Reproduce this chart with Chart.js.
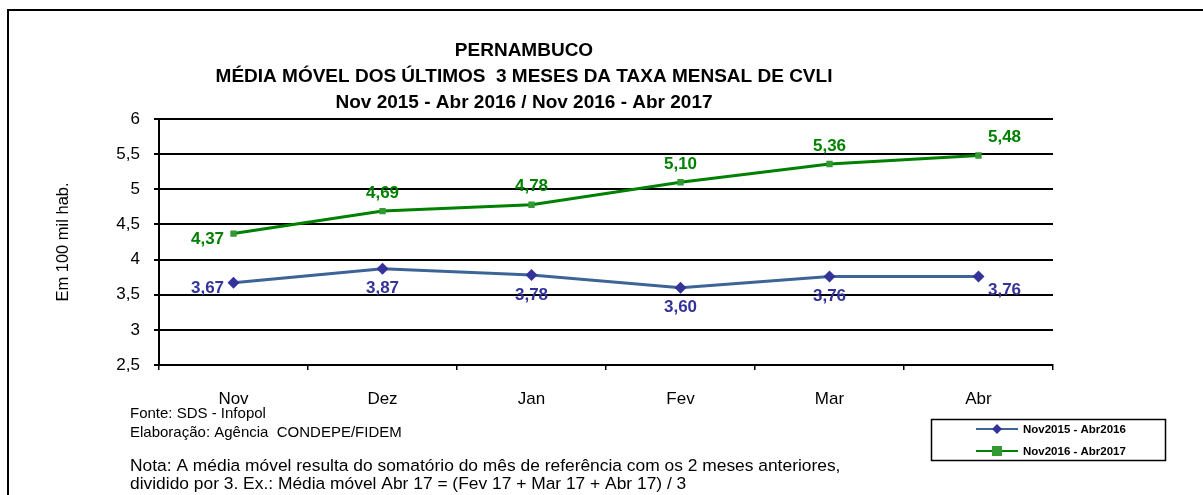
<!DOCTYPE html>
<html>
<head>
<meta charset="utf-8">
<script src="https://cdn.jsdelivr.net/npm/chart.js@4/dist/chart.umd.min.js"></script>
<style>
  html, body { margin: 0; padding: 0; background: #fff; }
  #wrap { width: 1203px; height: 495px; position: relative; }
</style>
</head>
<body>
<div id="wrap"><canvas id="cvli"></canvas></div>
<script>
// ── DATA ──
const MONTHS = ['Nov', 'Dez', 'Jan', 'Fev', 'Mar', 'Abr'];
const SERIES_2016 = [3.67, 3.87, 3.78, 3.60, 3.76, 3.76];
const SERIES_2017 = [4.37, 4.69, 4.78, 5.10, 5.36, 5.48];
const SERIES_NAMES = ['Nov2015 - Abr2016', 'Nov2016 - Abr2017'];
const TITLE_LINES = [
  'PERNAMBUCO',
  'MÉDIA MÓVEL DOS ÚLTIMOS  3 MESES DA TAXA MENSAL DE CVLI',
  'Nov 2015 - Abr 2016 / Nov 2016 - Abr 2017'
];
const FOOT_SMALL = ['Fonte: SDS - Infopol', 'Elaboração: Agência  CONDEPE/FIDEM'];
const FOOT_NOTE = [
  'Nota: A média móvel resulta do somatório do mês de referência com os 2 meses anteriores,',
  'dividido por 3. Ex.: Média móvel Abr 17 = (Fev 17 + Mar 17 + Abr 17) / 3'
];

const FONT = "'Liberation Sans', Arial, sans-serif";
const BLUE_LINE = '#3C6496';
const BLUE_MARK = '#333399';
const GREEN_LINE = '#008000';
const GREEN_MARK = '#339933';

const fmt = v => v.toFixed(2).replace('.', ',');

// ── FRAME + TEXTS ──
const decor = {
  id: 'decor',
  beforeDraw(chart) {
    const c = chart.ctx;
    c.save();
    c.fillStyle = '#fff';
    c.fillRect(0, 0, chart.width, chart.height);
    c.strokeStyle = '#000';
    c.lineWidth = 2;
    c.strokeRect(8, 10, 1300, 600);
    c.restore();
  },
  afterDraw(chart) {
    const c = chart.ctx;
    c.save();
    c.fillStyle = '#000';
    c.textAlign = 'center';
    c.textBaseline = 'middle';
    c.font = 'bold 19px ' + FONT;
    TITLE_LINES.forEach((t, i) => c.fillText(t, 524, 51 + i * 26));

    // footer
    c.textAlign = 'left';
    c.font = '15px ' + FONT;
    FOOT_SMALL.forEach((t, i) => c.fillText(t, 130, 414 + i * 19));
    c.font = '17.4px ' + FONT;
    FOOT_NOTE.forEach((t, i) => c.fillText(t, 130, 466 + i * 18));

    // legend box
    c.strokeStyle = '#000';
    c.lineWidth = 1.5;
    c.strokeRect(931.5, 419.5, 234, 41);
    chart.data.datasets.forEach((ds, i) => {
      const y = 429 + i * 22;
      c.strokeStyle = ds.borderColor;
      c.lineWidth = 2;
      c.beginPath(); c.moveTo(976, y); c.lineTo(1018, y); c.stroke();
      c.fillStyle = ds.pointBackgroundColor;
      if (ds.pointStyle === 'rectRot') {
        c.beginPath();
        c.moveTo(997, y - 5); c.lineTo(1002, y); c.lineTo(997, y + 5); c.lineTo(992, y);
        c.closePath(); c.fill();
      } else {
        c.fillRect(992, y - 5, 10, 10);
      }
      c.fillStyle = '#000';
      c.font = 'bold 11.5px ' + FONT;
      c.fillText(ds.label, 1023, y + 1);
    });

    // data labels
    c.font = 'bold 17px ' + FONT;
    chart.data.datasets.forEach((ds, di) => {
      const meta = chart.getDatasetMeta(di);
      const n = meta.data.length;
      c.fillStyle = di === 0 ? BLUE_MARK : GREEN_LINE;
      meta.data.forEach((pt, i) => {
        const txt = fmt(ds.data[i]);
        let x = pt.x, y = pt.y;
        if (i === 0) { x -= 26; y += 6; }
        else if (i === n - 1) { x += 26; y += di === 0 ? 14 : -18; }
        else { y += di === 0 ? 20 : -18; }
        c.textAlign = 'center';
        c.fillText(txt, x, y);
      });
    });
    c.restore();
  }
};

new Chart(document.getElementById('cvli'), {
  type: 'line',
  data: {
    labels: MONTHS,
    datasets: [
      { label: SERIES_NAMES[0], data: SERIES_2016, borderColor: BLUE_LINE, borderWidth: 3,
        pointStyle: 'rectRot', pointRadius: 6, pointBackgroundColor: BLUE_MARK, pointBorderColor: BLUE_MARK,
        pointBorderWidth: 0, tension: 0 },
      { label: SERIES_NAMES[1], data: SERIES_2017, borderColor: GREEN_LINE, borderWidth: 3,
        pointStyle: 'rect', pointRadius: 4.5, pointBackgroundColor: GREEN_MARK, pointBorderColor: GREEN_MARK,
        pointBorderWidth: 0, tension: 0 }
    ]
  },
  options: {
    responsive: true, maintainAspectRatio: false, animation: false,
    layout: { padding: { left: 0, top: 119, right: 150, bottom: 0 } },
    plugins: { legend: { display: false }, tooltip: { enabled: false } },
    scales: {
      x: {
        offset: true,
        grid: { display: true, drawOnChartArea: false, offset: true, color: '#000', lineWidth: 1.5, tickLength: 5 },
        border: { color: '#000', width: 2 },
        ticks: { color: '#000', font: { family: FONT, size: 17 }, padding: 19 },
        afterFit: s => { s.height = 130; }
      },
      y: {
        min: 2.5, max: 6,
        grid: { color: '#000', lineWidth: 2, tickLength: 5 },
        border: { color: '#000', width: 2 },
        ticks: { stepSize: 0.5, color: '#000', font: { family: FONT, size: 17 }, padding: 14,
                 callback: v => String(v).replace('.', ',') },
        title: { display: true, text: 'Em 100 mil hab.', color: '#000',
                 font: { family: FONT, size: 16.5 }, padding: { top: 54, bottom: 0 } },
        afterFit: s => { s.width = 159; }
      }
    }
  },
  plugins: [decor]
});
</script>
</body>
</html>
